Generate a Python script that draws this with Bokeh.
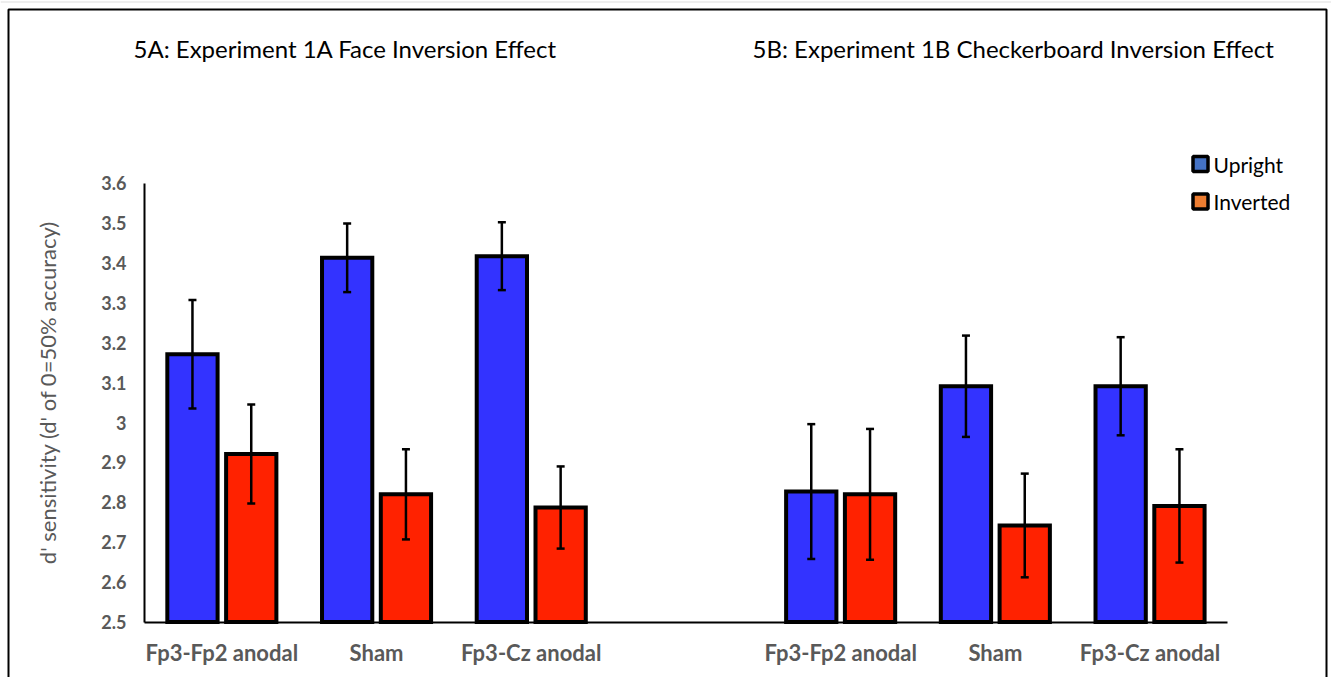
import math
from bokeh.plotting import figure
from bokeh.models import (Range1d, FixedTicker, CustomJSTickFormatter, Whisker,
                          TeeHead, ColumnDataSource, Label)
from bokeh.embed import file_html
from bokeh.resources import INLINE

# ---- data -------------------------------------------------------------
conditions = ["Fp3-Fp2 anodal", "Sham", "Fp3-Cz anodal"]

face_upright = [3.171, 3.413, 3.417]
face_upright_err = [0.136, 0.086, 0.085]
face_inverted = [2.921, 2.820, 2.787]
face_inverted_err = [0.124, 0.113, 0.103]

check_upright = [2.827, 3.091, 3.091]
check_upright_err = [0.169, 0.127, 0.123]
check_inverted = [2.820, 2.742, 2.791]
check_inverted_err = [0.164, 0.130, 0.142]

y_ticks = [2.5, 2.6, 2.7, 2.8, 2.9, 3.0, 3.1, 3.2, 3.3, 3.4, 3.5, 3.6]

panel_titles = ["5A: Experiment 1A Face Inversion Effect",
                "5B: Experiment 1B Checkerboard Inversion Effect"]
y_title = "d' sensitivity (d' of 0=50% accuracy)"
legend_labels = ["Upright", "Inverted"]

# ---- layout -----------------------------------------------------------
W, H = 1331, 677
AX_LEFT = 144.0      # pixel column of the y axis
AX_BOTTOM = 621.5    # pixel row of the x axis
SLOT_PX = 154.7      # width of one category slot
UNIT_PX = 398.9      # pixels per 1.0 of d'
Y_BASE = 2.5
N_SLOTS = 7          # 3 face slots, one empty spacer, 3 checkerboard slots

x_start = -AX_LEFT / SLOT_PX
x_end = (W - AX_LEFT) / SLOT_PX
y_end = Y_BASE + AX_BOTTOM / UNIT_PX
y_start = Y_BASE - (H - AX_BOTTOM) / UNIT_PX


def sx(px):
    return x_start + px / SLOT_PX


def sy(py):
    return y_end - py / UNIT_PX


FONT = "Lato"
GREY = "#595959"
BLUE = "#3333FF"
RED = "#FF2200"

p = figure(width=W, height=H, x_range=Range1d(x_start, x_end),
           y_range=Range1d(y_start, y_end), output_backend="svg",
           toolbar_location=None, min_border=0, outline_line_color=None,
           background_fill_color="white", border_fill_color="white")
p.grid.visible = False

# slot centres for the two experiments
face_x = [i + 0.5 for i in range(3)]
check_x = [i + 4.5 for i in range(3)]
slot_labels = conditions + [""] + conditions

# ---- axes -------------------------------------------------------------
xa = p.xaxis[0]
xa.fixed_location = Y_BASE
xa.bounds = (0, N_SLOTS)
xa.ticker = FixedTicker(ticks=face_x + check_x)
xa.formatter = CustomJSTickFormatter(args=dict(labels=slot_labels),
                                     code="return labels[Math.floor(tick)];")
ya = p.yaxis[0]
ya.fixed_location = 0
ya.bounds = (y_ticks[0], y_ticks[-1])
ya.ticker = FixedTicker(ticks=y_ticks)
ya.formatter = CustomJSTickFormatter(code="return String(Math.round(tick*10)/10);")

for ax in (xa, ya):
    ax.axis_line_color = "black"
    ax.axis_line_width = 2
    ax.major_tick_line_color = None
    ax.minor_tick_line_color = None
    ax.major_tick_out = 0
    ax.major_tick_in = 0
    ax.major_label_text_font = FONT
    ax.major_label_text_font_style = "bold"
    ax.major_label_text_color = GREY
xa.major_label_text_font_size = "22px"
ya.major_label_text_font_size = "18px"
xa.major_label_standoff = 17
ya.major_label_standoff = 18

# ---- bars and error bars ---------------------------------------------
BAR_W = 0.325
OFF = 0.19


def bars(xs, vals, errs, shift, color):
    src = ColumnDataSource(dict(
        x=[x + shift for x in xs], top=vals,
        upper=[v + e for v, e in zip(vals, errs)],
        lower=[v - e for v, e in zip(vals, errs)]))
    p.vbar(x="x", top="top", bottom=Y_BASE, width=BAR_W, source=src,
           fill_color=color, line_color="black", line_width=4,
           line_join="miter")
    w = Whisker(base="x", upper="upper", lower="lower", source=src,
                dimension="height", line_color="black", line_width=2.5,
                level="overlay",
                upper_head=TeeHead(size=8, line_width=2.5, line_color="black"),
                lower_head=TeeHead(size=8, line_width=2.5, line_color="black"))
    p.add_layout(w)


bars(face_x, face_upright, face_upright_err, -OFF, BLUE)
bars(face_x, face_inverted, face_inverted_err, OFF, RED)
bars(check_x, check_upright, check_upright_err, -OFF, BLUE)
bars(check_x, check_inverted, check_inverted_err, OFF, RED)

# ---- titles -----------------------------------------------------------
for txt, px in zip(panel_titles, (133, 752)):
    p.add_layout(Label(x=sx(px), y=sy(48), text=txt, text_font=FONT,
                       text_font_size="24px", text_color="black",
                       text_baseline="middle", text_align="left"))

p.add_layout(Label(x=sx(47), y=sy(392), text=y_title, angle=math.pi / 2,
                   text_font=FONT, text_font_size="22px", text_color=GREY,
                   text_baseline="middle", text_align="center"))

# ---- legend -----------------------------------------------------------
leg_y = [sy(163.5), sy(201)]
p.scatter(x=[sx(1200)] * 2, y=leg_y, marker="square", size=15,
          fill_color=["#4472C4", "#ED7D31"], line_color="black",
          line_width=3.5)
for lab, ly in zip(legend_labels, leg_y):
    p.add_layout(Label(x=sx(1213), y=ly, text=lab, text_font=FONT,
                       text_font_size="21px", text_color="black",
                       text_baseline="middle", text_align="left"))

# ---- outer frame ------------------------------------------------------
p.line(x=[sx(8), sx(8), sx(1326), sx(1326)],
       y=[y_start - 1, sy(9), sy(9), y_start - 1],
       line_color="black", line_width=2)
p.line(x=[x_start, x_end], y=[sy(1.5), sy(1.5)], line_color="#dddddd",
       line_width=1)

open("out.html", "w").write(file_html(p, INLINE))
